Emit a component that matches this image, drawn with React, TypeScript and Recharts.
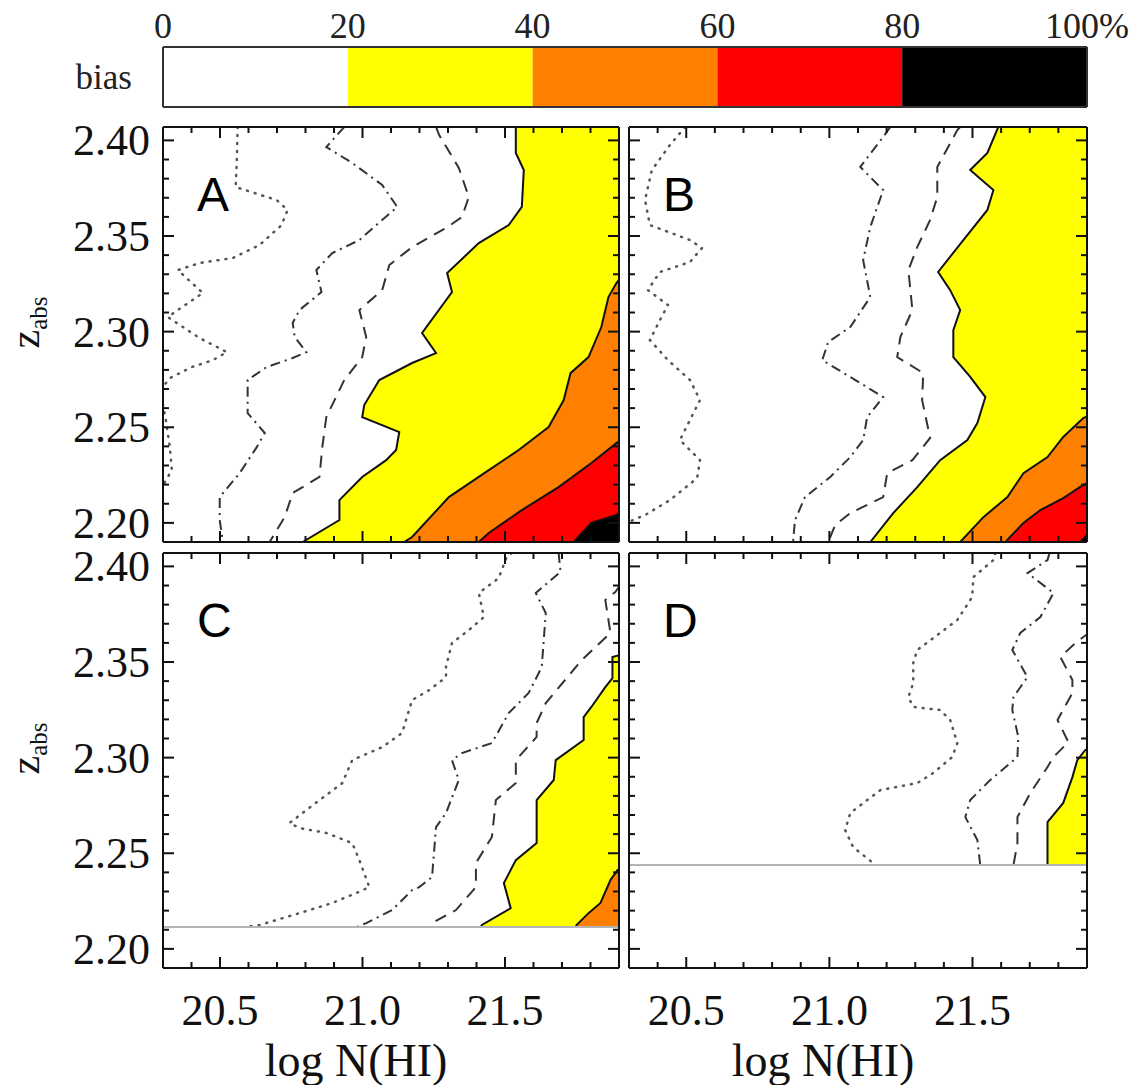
import React from 'react';
import { ComposedChart, Area, Line, XAxis, YAxis, ReferenceLine, BarChart, Bar } from 'recharts';

type Pt = [number, number]; // [log N(HI), z_abs]

const SERIF = "'Liberation Serif', 'Times New Roman', 'DejaVu Serif', serif";
const SANS = "'Liberation Sans', Arial, sans-serif";

// colour bar
const biasTicks = [0, 20, 40, 60, 80, 100];
const biasRow = [{ name: 'bias', b0: 20, b1: 20, b2: 20, b3: 20, b4: 20 }];
const biasColors = ['#ffffff', '#ffff00', '#ff8000', '#ff0000', '#000000'];

// axes
const nhiTicks = [20.4, 20.5, 20.6, 20.7, 20.8, 20.9, 21.0, 21.1, 21.2, 21.3, 21.4, 21.5, 21.6, 21.7, 21.8];
const zTicks = [2.2, 2.21, 2.22, 2.23, 2.24, 2.25, 2.26, 2.27, 2.28, 2.29, 2.3, 2.31, 2.32, 2.33, 2.34, 2.35, 2.36, 2.37, 2.38, 2.39, 2.4];
const nhiDomain: [number, number] = [20.3, 21.9];
const zDomain: [number, number] = [2.19, 2.407];

// panel A
const dotA: Pt[] = [[20.562, 2.407], [20.559, 2.3897], [20.555, 2.3756], [20.699, 2.3688], [20.737, 2.3636], [20.716, 2.3557], [20.639, 2.3453], [20.545, 2.3385], [20.429, 2.3359], [20.352, 2.3322], [20.44, 2.3202], [20.352, 2.3113], [20.317, 2.3076], [20.429, 2.2966], [20.524, 2.2893], [20.475, 2.2851], [20.401, 2.2815], [20.324, 2.2757], [20.29, 2.2694], [20.31, 2.2538], [20.324, 2.2396], [20.331, 2.2276], [20.29, 2.2171]];
const ddA: Pt[] = [[20.936, 2.407], [20.873, 2.3965], [20.964, 2.3882], [21.069, 2.3767], [21.122, 2.3652], [21.069, 2.3584], [20.989, 2.3479], [20.894, 2.3411], [20.838, 2.3322], [20.856, 2.3207], [20.779, 2.3113], [20.755, 2.3045], [20.762, 2.2972], [20.803, 2.2893], [20.755, 2.2862], [20.664, 2.2815], [20.597, 2.2747], [20.597, 2.2574], [20.657, 2.247], [20.629, 2.2396], [20.569, 2.226], [20.499, 2.2135], [20.499, 2.2015], [20.51, 2.19]];
const dashA: Pt[] = [[21.258, 2.407], [21.269, 2.4028], [21.338, 2.3856], [21.373, 2.3704], [21.349, 2.3599], [21.293, 2.3542], [21.174, 2.3442], [21.094, 2.3348], [21.069, 2.3217], [20.989, 2.3113], [21.013, 2.2972], [20.999, 2.2867], [20.936, 2.2747], [20.873, 2.2553], [20.859, 2.2396], [20.849, 2.224], [20.755, 2.2156], [20.727, 2.203], [20.674, 2.19]];
const c20A: Pt[] = [[21.538, 2.407], [21.538, 2.3934], [21.566, 2.3845], [21.559, 2.3652], [21.513, 2.3557], [21.408, 2.3463], [21.297, 2.3306], [21.314, 2.3207], [21.209, 2.2993], [21.258, 2.2888], [21.174, 2.2836], [21.059, 2.2747], [21.006, 2.2616], [20.999, 2.2553], [21.129, 2.2475], [21.118, 2.2381], [21.083, 2.2328], [20.999, 2.224], [20.919, 2.2119], [20.919, 2.2015], [20.79, 2.19]];
const c40A: Pt[] = [[21.905, 2.328], [21.891, 2.3254], [21.863, 2.3181], [21.838, 2.3024], [21.793, 2.2867], [21.73, 2.2783], [21.706, 2.2642], [21.653, 2.2501], [21.548, 2.2381], [21.443, 2.2276], [21.303, 2.2135], [21.174, 2.1926], [21.146, 2.19]];
const c60A: Pt[] = [[21.905, 2.2433], [21.891, 2.2417], [21.803, 2.2313], [21.688, 2.2187], [21.559, 2.2067], [21.443, 2.1947], [21.408, 2.19]];
const c80A: Pt[] = [[21.905, 2.2057], [21.891, 2.2041], [21.803, 2.2], [21.741, 2.19]];

// panel B
const dotB: Pt[] = [[20.496, 2.407], [20.443, 2.3976], [20.38, 2.3845], [20.356, 2.3688], [20.373, 2.3557], [20.513, 2.3479], [20.555, 2.3437], [20.513, 2.3364], [20.408, 2.3312], [20.366, 2.3217], [20.436, 2.3139], [20.408, 2.306], [20.373, 2.2956], [20.436, 2.2851], [20.513, 2.2747], [20.548, 2.2642], [20.513, 2.2538], [20.478, 2.2433], [20.548, 2.2328], [20.538, 2.2234], [20.443, 2.2119], [20.356, 2.2041], [20.297, 2.2004]];
const ddB: Pt[] = [[21.213, 2.407], [21.188, 2.4018], [21.108, 2.3861], [21.188, 2.374], [21.143, 2.3547], [21.118, 2.3374], [21.143, 2.3181], [21.073, 2.3024], [20.996, 2.2946], [20.975, 2.2851], [21.073, 2.2763], [21.188, 2.2658], [21.132, 2.2553], [21.118, 2.2433], [21.073, 2.2344], [21.003, 2.224], [20.915, 2.2135], [20.88, 2.2015], [20.873, 2.19]];
const dashB: Pt[] = [[21.457, 2.407], [21.447, 2.4054], [21.377, 2.3861], [21.377, 2.3704], [21.352, 2.3584], [21.307, 2.3442], [21.276, 2.3322], [21.29, 2.3113], [21.248, 2.2972], [21.237, 2.2867], [21.328, 2.2783], [21.324, 2.2642], [21.352, 2.2444], [21.29, 2.2328], [21.202, 2.226], [21.188, 2.2135], [21.073, 2.2051], [21.02, 2.1988], [20.996, 2.19]];
const c20B: Pt[] = [[21.59, 2.407], [21.552, 2.3934], [21.492, 2.3845], [21.573, 2.374], [21.552, 2.3636], [21.468, 2.3479], [21.38, 2.3312], [21.422, 2.3217], [21.457, 2.3113], [21.433, 2.3008], [21.433, 2.2867], [21.492, 2.2763], [21.545, 2.2658], [21.517, 2.2522], [21.482, 2.2433], [21.387, 2.2328], [21.307, 2.2187], [21.223, 2.2051], [21.143, 2.19]];
const c40B: Pt[] = [[21.912, 2.2564], [21.887, 2.2548], [21.817, 2.2449], [21.762, 2.2344], [21.678, 2.226], [21.622, 2.2135], [21.538, 2.203], [21.457, 2.19]];
const c60B: Pt[] = [[21.912, 2.2214], [21.887, 2.2198], [21.817, 2.213], [21.737, 2.2067], [21.678, 2.2], [21.615, 2.19]];
const c80B: Pt[] = [[21.912, 2.1957], [21.877, 2.19]];

// panel C
const cutC = 2.2114;
const dotC: Pt[] = [[21.524, 2.407], [21.506, 2.4049], [21.478, 2.3939], [21.408, 2.3861], [21.426, 2.3735], [21.373, 2.3667], [21.314, 2.3599], [21.293, 2.3474], [21.293, 2.3421], [21.234, 2.3353], [21.174, 2.3301], [21.139, 2.3129], [21.069, 2.3055], [20.964, 2.2987], [20.929, 2.2867], [20.803, 2.2726], [20.744, 2.2658], [20.779, 2.2632], [20.873, 2.2606], [20.964, 2.2553], [20.989, 2.2464], [21.024, 2.2323], [20.978, 2.2292], [20.894, 2.224], [20.779, 2.2187], [20.639, 2.2125], [20.587, 2.2114]];
const ddC: Pt[] = [[21.688, 2.407], [21.695, 2.3971], [21.608, 2.3861], [21.643, 2.3756], [21.629, 2.3474], [21.583, 2.3338], [21.513, 2.3233], [21.454, 2.3076], [21.349, 2.3024], [21.314, 2.2987], [21.338, 2.2883], [21.293, 2.271], [21.258, 2.2637], [21.244, 2.2375], [21.199, 2.2323], [21.174, 2.2307], [21.104, 2.2203], [21.013, 2.2135], [20.978, 2.2114]];
const dashC: Pt[] = [[21.905, 2.3903], [21.887, 2.3866], [21.852, 2.3824], [21.87, 2.3652], [21.769, 2.351], [21.643, 2.3285], [21.611, 2.3181], [21.611, 2.3108], [21.538, 2.2987], [21.538, 2.2867], [21.468, 2.2778], [21.454, 2.2585], [21.398, 2.2449], [21.398, 2.2323], [21.328, 2.2203], [21.244, 2.2135], [21.234, 2.2114]];
const c20C: Pt[] = [[21.905, 2.3537], [21.877, 2.3526], [21.877, 2.3416], [21.852, 2.3369], [21.803, 2.3265], [21.776, 2.3212], [21.776, 2.3092], [21.678, 2.2987], [21.671, 2.2883], [21.611, 2.2778], [21.611, 2.2553], [21.538, 2.2464], [21.496, 2.2344], [21.52, 2.2213], [21.419, 2.2125], [21.415, 2.2114]];
const c40C: Pt[] = [[21.905, 2.2423], [21.895, 2.2412], [21.87, 2.236], [21.835, 2.224], [21.793, 2.2187], [21.751, 2.2125], [21.748, 2.2114]];

// panel D
const cutD = 2.2438;
const dotD: Pt[] = [[21.58, 2.407], [21.573, 2.4033], [21.503, 2.3944], [21.499, 2.384], [21.447, 2.372], [21.387, 2.3652], [21.307, 2.3563], [21.293, 2.3495], [21.293, 2.339], [21.276, 2.3317], [21.293, 2.3265], [21.387, 2.3249], [21.422, 2.3197], [21.447, 2.3076], [21.429, 2.3003], [21.363, 2.292], [21.307, 2.2867], [21.178, 2.283], [21.132, 2.2778], [21.073, 2.271], [21.055, 2.2621], [21.083, 2.2532], [21.153, 2.2449], [21.16, 2.2438]];
const ddD: Pt[] = [[21.769, 2.407], [21.762, 2.4033], [21.692, 2.3965], [21.783, 2.3861], [21.737, 2.3735], [21.667, 2.3652], [21.639, 2.3563], [21.678, 2.3458], [21.692, 2.3421], [21.643, 2.3317], [21.639, 2.3249], [21.66, 2.3108], [21.657, 2.3003], [21.562, 2.2883], [21.492, 2.2778], [21.475, 2.2689], [21.517, 2.2569], [21.527, 2.2438]];
const dashD: Pt[] = [[21.912, 2.3657], [21.887, 2.3631], [21.852, 2.3589], [21.807, 2.3526], [21.849, 2.3406], [21.849, 2.3338], [21.797, 2.3197], [21.835, 2.3081], [21.783, 2.3003], [21.762, 2.2951], [21.702, 2.2815], [21.657, 2.2689], [21.657, 2.2553], [21.643, 2.2438]];
const c20D: Pt[] = [[21.912, 2.305], [21.894, 2.304], [21.866, 2.2987], [21.849, 2.2898], [21.817, 2.2763], [21.762, 2.2663], [21.762, 2.2438]];

type Series = { dot: Pt[]; dd: Pt[]; dash: Pt[]; c20: Pt[]; c40?: Pt[]; c60?: Pt[]; c80?: Pt[] };

interface PanelDef {
  letter: string;
  left: number;
  top: number;
  width: number;
  xLabels: boolean;
  yLabels: boolean;
  cut?: number;
  series: Series;
}

const panels: PanelDef[] = [
  { letter: 'A', left: 163, top: 127, width: 456, xLabels: false, yLabels: true, series: { dot: dotA, dd: ddA, dash: dashA, c20: c20A, c40: c40A, c60: c60A, c80: c80A } },
  { letter: 'B', left: 629, top: 127, width: 458, xLabels: false, yLabels: false, series: { dot: dotB, dd: ddB, dash: dashB, c20: c20B, c40: c40B, c60: c60B, c80: c80B } },
  { letter: 'C', left: 163, top: 553, width: 456, xLabels: true, yLabels: true, cut: cutC, series: { dot: dotC, dd: ddC, dash: dashC, c20: c20C, c40: c40C } },
  { letter: 'D', left: 629, top: 553, width: 458, xLabels: true, yLabels: false, cut: cutD, series: { dot: dotD, dd: ddD, dash: dashD, c20: c20D } },
];

const fills: Record<string, string> = { c20: '#ffff00', c40: '#ff8000', c60: '#ff0000', c80: '#000000' };

// one row per point, each row only carries its own series key
function toRows(series: Series) {
  const rows: Record<string, number>[] = [];
  Object.entries(series).forEach(([key, pts]) => {
    (pts || []).forEach(([n, z]: Pt) => rows.push({ z, [key]: n }));
  });
  return rows;
}

const isMajorN = (v: number) => Math.abs(v * 2 - Math.round(v * 2)) < 1e-6;
const isMajorZ = (v: number) => Math.abs(v * 20 - Math.round(v * 20)) < 1e-6;
const INK = '#111';

// ticks point inward; the tick props x/y sit on the frame because tickSize/tickMargin are 0
const bottomTick = (labels: boolean) => (p: any) => {
  const v = p.payload.value;
  const major = isMajorN(v);
  return (
    <g>
      <line x1={p.x} x2={p.x} y1={p.y} y2={p.y - (major ? 11 : 6)} stroke={INK} strokeWidth={2} />
      {labels && major && (
        <text x={p.x} y={p.y + 57} textAnchor="middle" fontSize={44} fontFamily={SERIF} fill={INK}>
          {v.toFixed(1)}
        </text>
      )}
    </g>
  );
};

const topTick = (p: any) => {
  const major = isMajorN(p.payload.value);
  return <line x1={p.x} x2={p.x} y1={p.y} y2={p.y + (major ? 11 : 6)} stroke={INK} strokeWidth={2} />;
};

const leftTick = (labels: boolean) => (p: any) => {
  const v = p.payload.value;
  const major = isMajorZ(v);
  return (
    <g>
      <line x1={p.x} x2={p.x + (major ? 11 : 6)} y1={p.y} y2={p.y} stroke={INK} strokeWidth={2} />
      {labels && major && (
        <text x={p.x - 13} y={p.y} dy="0.34em" textAnchor="end" fontSize={44} fontFamily={SERIF} fill={INK}>
          {v.toFixed(2)}
        </text>
      )}
    </g>
  );
};

const rightTick = (p: any) => {
  const major = isMajorZ(p.payload.value);
  return <line x1={p.x} x2={p.x - (major ? 11 : 6)} y1={p.y} y2={p.y} stroke={INK} strokeWidth={2} />;
};

function Panel({ def }: { def: PanelDef }) {
  const leftW = def.yLabels ? 163 : 2;
  const topH = 20;
  const bottomH = def.xLabels ? 117 : 20;
  const plotH = 415;
  const rows = toRows(def.series);
  const axisLine = { stroke: INK, strokeWidth: 2 };
  const areas = (['c20', 'c40', 'c60', 'c80'] as const).filter((k) => def.series[k]);

  return (
    <div style={{ position: 'absolute', left: def.left - leftW, top: def.top - topH }}>
      <ComposedChart
        layout="vertical"
        width={leftW + def.width + 2}
        height={topH + plotH + bottomH}
        data={rows}
        margin={{ top: 0, right: 0, bottom: 0, left: 0 }}
      >
        {areas.map((k) => (
          <Area
            key={k}
            xAxisId="b"
            yAxisId="l"
            dataKey={k}
            type="linear"
            baseValue="dataMax"
            fill={fills[k]}
            fillOpacity={1}
            stroke={INK}
            strokeWidth={2}
            connectNulls
            dot={false}
            activeDot={false}
            isAnimationActive={false}
          />
        ))}
        <Line xAxisId="b" yAxisId="l" dataKey="dot" type="linear" stroke="#555" strokeWidth={2.5} strokeDasharray="1 7" strokeLinecap="round" dot={false} activeDot={false} connectNulls isAnimationActive={false} />
        <Line xAxisId="b" yAxisId="l" dataKey="dd" type="linear" stroke="#333" strokeWidth={2} strokeDasharray="10 5 2 5" dot={false} activeDot={false} connectNulls isAnimationActive={false} />
        <Line xAxisId="b" yAxisId="l" dataKey="dash" type="linear" stroke="#333" strokeWidth={2} strokeDasharray="12 8" dot={false} activeDot={false} connectNulls isAnimationActive={false} />
        {def.cut !== undefined && (
          <ReferenceLine xAxisId="b" yAxisId="l" y={def.cut} stroke="#b5b5b5" strokeWidth={2} />
        )}
        <XAxis
          xAxisId="b"
          type="number"
          orientation="bottom"
          domain={nhiDomain}
          allowDataOverflow
          ticks={nhiTicks}
          interval={0}
          height={bottomH}
          tickLine={false}
          tickSize={0}
          tickMargin={0}
          axisLine={axisLine}
          tick={bottomTick(def.xLabels)}
          label={
            def.xLabels
              ? {
                  position: 'insideBottom',
                  content: (lp: any) => {
                    const vb = lp.viewBox;
                    return (
                      <text x={vb.x + vb.width / 2 - 35} y={vb.y + 108} textAnchor="middle" fontSize={46} fontFamily={SERIF} fill={INK}>
                        log N(HI)
                      </text>
                    );
                  },
                }
              : undefined
          }
        />
        <XAxis
          xAxisId="t"
          type="number"
          orientation="top"
          domain={nhiDomain}
          allowDataOverflow
          ticks={nhiTicks}
          interval={0}
          height={topH}
          tickLine={false}
          tickSize={0}
          tickMargin={0}
          axisLine={axisLine}
          tick={topTick}
          label={{
            position: 'insideTop',
            content: (lp: any) => {
              const vb = lp.viewBox;
              return (
                <text x={vb.x + 34} y={vb.y + vb.height + 84} fontSize={48} fontFamily={SANS} fill="#000">
                  {def.letter}
                </text>
              );
            },
          }}
        />
        <YAxis
          yAxisId="l"
          type="number"
          dataKey="z"
          orientation="left"
          reversed
          domain={zDomain}
          allowDataOverflow
          ticks={zTicks}
          interval={0}
          width={leftW}
          tickLine={false}
          tickSize={0}
          tickMargin={0}
          axisLine={axisLine}
          tick={leftTick(def.yLabels)}
          label={
            def.yLabels
              ? {
                  position: 'insideLeft',
                  content: (lp: any) => {
                    const vb = lp.viewBox;
                    const cx = vb.x + 39;
                    const cy = vb.y + vb.height / 2 - 12;
                    return (
                      <text x={cx} y={cy} transform={`rotate(-90 ${cx} ${cy})`} textAnchor="middle" fontFamily={SERIF} fill={INK}>
                        <tspan fontSize={42}>z</tspan>
                        <tspan fontSize={25} dy={8}>abs</tspan>
                      </text>
                    );
                  },
                }
              : undefined
          }
        />
        <YAxis
          yAxisId="r"
          type="number"
          dataKey="z"
          orientation="right"
          reversed
          domain={zDomain}
          allowDataOverflow
          ticks={zTicks}
          interval={0}
          width={2}
          tickLine={false}
          tickSize={0}
          tickMargin={0}
          axisLine={axisLine}
          tick={rightTick}
        />
      </ComposedChart>
    </div>
  );
}

function ColorBar() {
  const frame = { stroke: '#333', strokeWidth: 2 };
  return (
    <div style={{ position: 'absolute', left: 0, top: 0 }}>
      <BarChart
        layout="vertical"
        width={163 + 924 + 44}
        height={47 + 60 + 2}
        data={biasRow}
        barCategoryGap={0}
        margin={{ top: 0, right: 0, bottom: 0, left: 0 }}
      >
        {biasColors.map((c, i) => (
          <Bar key={i} xAxisId="t" yAxisId="l" dataKey={`b${i}`} stackId="bias" fill={c} isAnimationActive={false} />
        ))}
        <XAxis
          xAxisId="t"
          type="number"
          orientation="top"
          domain={[0, 100]}
          ticks={biasTicks}
          interval={0}
          height={47}
          tickLine={false}
          tickSize={0}
          tickMargin={9}
          axisLine={frame}
          tickFormatter={(v: number) => (v === 100 ? '100%' : String(v))}
          tick={{ fontSize: 36, fontFamily: SERIF, fill: '#222' }}
        />
        <XAxis xAxisId="b" type="number" orientation="bottom" domain={[0, 100]} height={2} tick={false} tickLine={false} axisLine={frame} />
        <YAxis
          yAxisId="l"
          type="category"
          dataKey="name"
          orientation="left"
          width={163}
          tickLine={false}
          tickSize={0}
          tickMargin={31}
          axisLine={frame}
          tick={{ fontSize: 35, fontFamily: SERIF, fill: '#222' }}
        />
        <YAxis yAxisId="r" type="category" dataKey="name" orientation="right" width={44} tick={false} tickLine={false} axisLine={frame} />
      </BarChart>
    </div>
  );
}

export default function App() {
  return (
    <div style={{ position: 'absolute', left: 0, top: 0, width: 1131, height: 1085, background: '#fff' }}>
      <ColorBar />
      {panels.map((p) => (
        <Panel key={p.letter} def={p} />
      ))}
    </div>
  );
}
